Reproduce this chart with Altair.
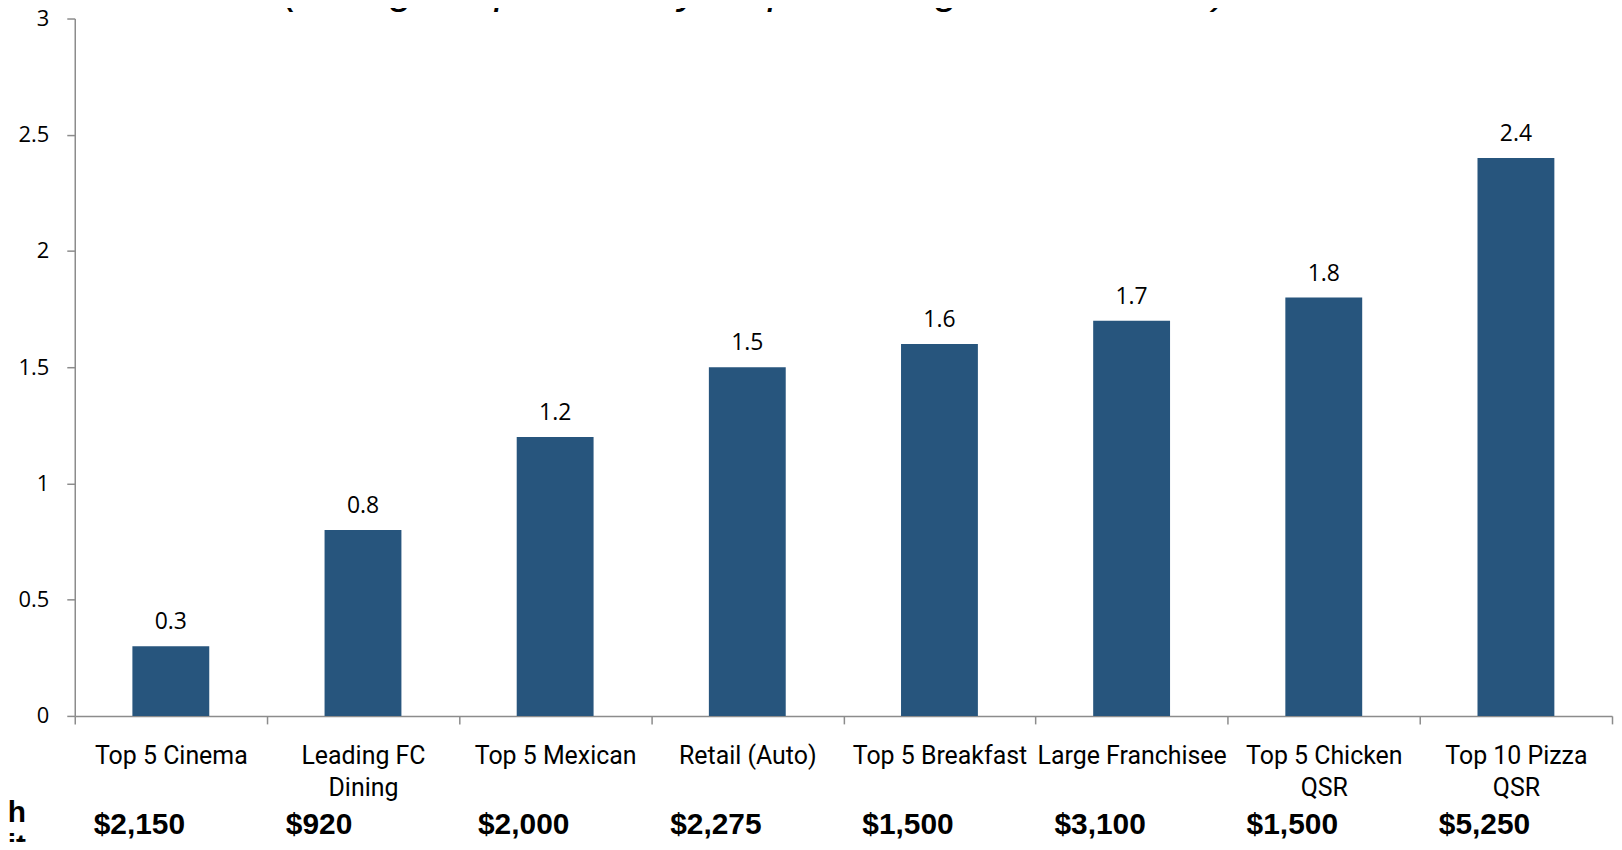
import altair as alt
import pandas as pd

categories = ["Top 5 Cinema", "Leading FC\nDining", "Top 5 Mexican", "Retail (Auto)",
              "Top 5 Breakfast", "Large Franchisee", "Top 5 Chicken\nQSR", "Top 10 Pizza\nQSR"]
values = [0.3, 0.8, 1.2, 1.5, 1.6, 1.7, 1.8, 2.4]
dollars = ["$2,150", "$920", "$2,000", "$2,275", "$1,500", "$3,100", "$1,500", "$5,250"]
y_ticks = [0, 0.5, 1, 1.5, 2, 2.5, 3]
title_text = ["(change in profitability as percentage of net sales)"]
row_label = ["Savings per Month\nper Unit"]

df = pd.DataFrame({"category": categories, "value": values, "dollars": dollars})

bar_color = "#27557D"
axis_gray = "#8C8C8C"

x_enc = alt.X(
    "category:N", sort=categories,
    scale=alt.Scale(paddingInner=0, paddingOuter=0),
    axis=alt.Axis(
        title=None, labelAngle=0, labelExpr="split(datum.label, '\\n')",
        labelFont="Roboto", labelFontSize=25, labelLineHeight=32,
        labelPadding=20, labelLimit=0, labelOverlap=False, tickBand="extent", tickSize=8,
    ),
)
y_enc = alt.Y(
    "value:Q", scale=alt.Scale(domain=[0, 3], nice=False),
    axis=alt.Axis(values=y_ticks, format="~g", title=None, tickSize=8, labelPadding=18,
                  labelFont="Open Sans", labelFontSize=22),
)

bars = alt.Chart(df).mark_bar(color=bar_color, width=alt.RelativeBandSize(0.4)).encode(x=x_enc, y=y_enc)

labels = alt.Chart(df).mark_text(
    baseline="alphabetic", dy=-17, font="Open Sans", fontSize=23, color="black"
).encode(x=x_enc, y=y_enc, text=alt.Text("value:Q", format=".1f"))

dollar_text = alt.Chart(df).mark_text(
    align="left", baseline="alphabetic", dx=19, font="Liberation Sans",
    fontWeight="bold", fontSize=30, color="black"
).encode(
    x=alt.X("category:N", sort=categories, bandPosition=0),
    y=alt.value(819),
    text="dollars:N",
)

row_text = alt.Chart(pd.DataFrame({"label": row_label})).mark_text(
    align="right", baseline="alphabetic", lineBreak="\n", lineHeight=34,
    font="Liberation Sans", fontWeight="bold", fontSize=30, color="black"
).encode(x=alt.value(-49), y=alt.value(806), text="label:N")

title_mark = alt.Chart(pd.DataFrame({"t": title_text})).mark_text(
    align="left", baseline="alphabetic", font="Liberation Sans", fontSize=43,
    fontStyle="italic", color="black"
).encode(x=alt.value(209), y=alt.value(-16), text="t:N")

chart = alt.layer(bars, labels, dollar_text, row_text, title_mark).properties(
    width=1543, height=700,
    autosize=alt.AutoSizeParams(type="none"),
    padding={"left": 67, "top": 9, "right": 2, "bottom": 125},
).configure_view(stroke=None).configure_axis(
    domainColor=axis_gray, domainWidth=1.5, tickColor=axis_gray, tickWidth=1.5,
    labelColor="black", grid=False,
)

chart.save("out.html", embed_options={"renderer": "svg", "actions": False})
